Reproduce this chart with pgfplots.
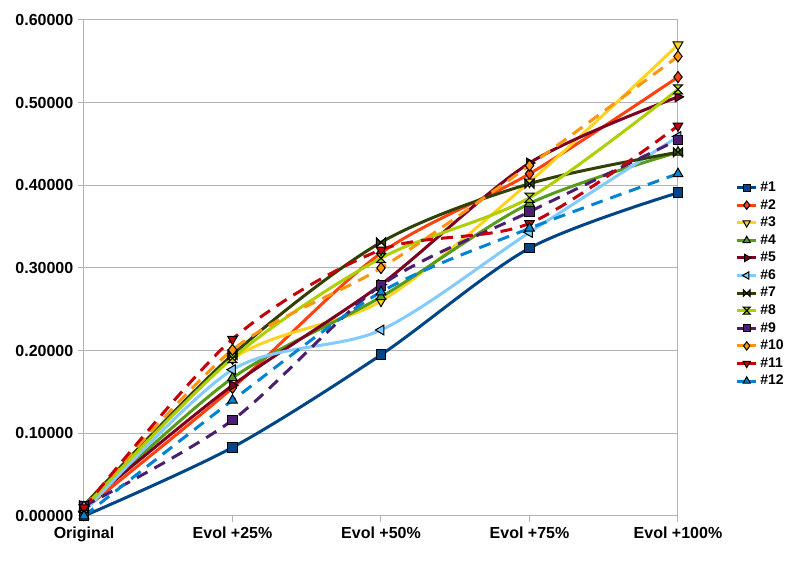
\documentclass[border=0pt]{standalone}
\usepackage{fontspec}
\setmainfont{Liberation Sans}
\usepackage{pgfplots}
\usepackage{pgfplotstable}
\pgfplotsset{compat=1.18}

\definecolor{c1}{HTML}{004586}
\definecolor{c2}{HTML}{FF420E}
\definecolor{c3}{HTML}{FFD320}
\definecolor{c4}{HTML}{579D1C}
\definecolor{c5}{HTML}{7E0021}
\definecolor{c6}{HTML}{83CAFF}
\definecolor{c7}{HTML}{314004}
\definecolor{c8}{HTML}{AECF00}
\definecolor{c9}{HTML}{4B1F6F}
\definecolor{c10}{HTML}{FF950E}
\definecolor{c11}{HTML}{C5000B}
\definecolor{c12}{HTML}{0084D1}
\definecolor{gridgray}{HTML}{B3B3B3}

\pgfdeclareplotmark{bowtie}{%
  \pgfpathmoveto{\pgfpoint{-\pgfplotmarksize}{-\pgfplotmarksize}}%
  \pgfpathlineto{\pgfpoint{-\pgfplotmarksize}{\pgfplotmarksize}}%
  \pgfpathlineto{\pgfpoint{\pgfplotmarksize}{-\pgfplotmarksize}}%
  \pgfpathlineto{\pgfpoint{\pgfplotmarksize}{\pgfplotmarksize}}%
  \pgfpathclose\pgfusepathqfillstroke}
\pgfdeclareplotmark{hourglass}{%
  \pgfpathmoveto{\pgfpoint{-\pgfplotmarksize}{\pgfplotmarksize}}%
  \pgfpathlineto{\pgfpoint{\pgfplotmarksize}{\pgfplotmarksize}}%
  \pgfpathlineto{\pgfpoint{-\pgfplotmarksize}{-\pgfplotmarksize}}%
  \pgfpathlineto{\pgfpoint{\pgfplotmarksize}{-\pgfplotmarksize}}%
  \pgfpathclose\pgfusepathqfillstroke}

\pgfplotstableread{
x s1 s2 s3 s4 s5 s6 s7 s8 s9 s10 s11 s12
0 0.000 0.008 0.010 0.010 0.012 0.005 0.013 0.010 0.012 0.011 0.010 0.000
1 0.083 0.155 0.190 0.167 0.158 0.177 0.195 0.191 0.116 0.201 0.214 0.140
2 0.195 0.318 0.260 0.265 0.280 0.225 0.331 0.312 0.279 0.300 0.322 0.271
3 0.324 0.414 0.404 0.378 0.427 0.343 0.402 0.385 0.368 0.424 0.354 0.348
4 0.391 0.531 0.570 0.440 0.507 0.459 0.440 0.516 0.455 0.556 0.472 0.414
}\data

\begin{document}
\begin{tikzpicture}
\useasboundingbox (-63pt,-38.25pt) rectangle (542.25pt,387pt);
\begin{axis}[
  scale only axis, width=445.5pt, height=372pt,
  xmin=0, xmax=4, ymin=0, ymax=0.6,
  xtick={0,1,2,3,4},
  xticklabels={Original,Evol +25\%,Evol +50\%,Evol +75\%,Evol +100\%},
  ytick={0,0.1,0.2,0.3,0.4,0.5,0.6},
  y tick label style={/pgf/number format/.cd, fixed, fixed zerofill, precision=5, assume math mode=true},
  ymajorgrids, grid style={color=gridgray, line width=0.75pt},
  axis line style={gridgray, line width=0.75pt},
  tick style={gridgray, line width=0.75pt},
  tick align=outside, tick pos=left, major tick length=4.5pt,
  ticklabel style={font=\bfseries\fontsize{12}{14}\selectfont, black},
  clip=false,
  legend cell align=left,
  legend style={at={(1.09,0.685)}, anchor=north west, draw=none, fill=none,
    font=\bfseries\fontsize{10.5}{12}\selectfont, row sep=0.4pt,
    nodes={inner xsep=2pt}},
  legend image code/.code={%
    \draw[mark repeat=2,mark phase=2] plot coordinates {(0cm,0cm) (0.25cm,0cm) (0.5cm,0cm)};},
  legend image post style={line width=2.25pt, solid, every mark/.append style={scale=0.75}},
  every axis plot/.append style={line width=2.25pt, smooth, tension=0.5},
]
\addplot[c1, mark=square*, mark size=3.6pt, mark options={solid, fill=c1, draw=black, line width=0.75pt}] table[x=x,y=s1]{\data};
\addlegendentry{\#1}
\addplot[c2, mark=diamond*, mark size=4.2pt, mark options={solid, fill=c2, draw=black, line width=0.75pt}] table[x=x,y=s2]{\data};
\addlegendentry{\#2}
\addplot[c3, mark=triangle*, mark size=4.2pt, mark options={solid, fill=c3, draw=black, line width=0.75pt, rotate=180}] table[x=x,y=s3]{\data};
\addlegendentry{\#3}
\addplot[c4, mark=triangle*, mark size=4.2pt, mark options={solid, fill=c4, draw=black, line width=0.75pt}] table[x=x,y=s4]{\data};
\addlegendentry{\#4}
\addplot[c5, mark=triangle*, mark size=4.2pt, mark options={solid, fill=c5, draw=black, line width=0.75pt, rotate=270}] table[x=x,y=s5]{\data};
\addlegendentry{\#5}
\addplot[c6, mark=triangle*, mark size=4.2pt, mark options={solid, fill=c6, draw=black, line width=0.75pt, rotate=90}] table[x=x,y=s6]{\data};
\addlegendentry{\#6}
\addplot[c7, mark=bowtie, mark size=3.4pt, mark options={solid, fill=c7, draw=black, line width=0.75pt}] table[x=x,y=s7]{\data};
\addlegendentry{\#7}
\addplot[c8, mark=hourglass, mark size=3.4pt, mark options={solid, fill=c8, draw=black, line width=0.75pt}] table[x=x,y=s8]{\data};
\addlegendentry{\#8}
\addplot[c9, dash pattern=on 9pt off 6pt, mark=square*, mark size=3.6pt, mark options={solid, fill=c9, draw=black, line width=0.75pt}] table[x=x,y=s9]{\data};
\addlegendentry{\#9}
\addplot[c10, dash pattern=on 9pt off 6pt, mark=diamond*, mark size=4.2pt, mark options={solid, fill=c10, draw=black, line width=0.75pt}] table[x=x,y=s10]{\data};
\addlegendentry{\#10}
\addplot[c11, dash pattern=on 9pt off 6pt, mark=triangle*, mark size=4.2pt, mark options={solid, fill=c11, draw=black, line width=0.75pt, rotate=180}] table[x=x,y=s11]{\data};
\addlegendentry{\#11}
\addplot[c12, dash pattern=on 9pt off 6pt, mark=triangle*, mark size=4.2pt, mark options={solid, fill=c12, draw=black, line width=0.75pt}] table[x=x,y=s12]{\data};
\addlegendentry{\#12}
\end{axis}
\end{tikzpicture}
\end{document}
